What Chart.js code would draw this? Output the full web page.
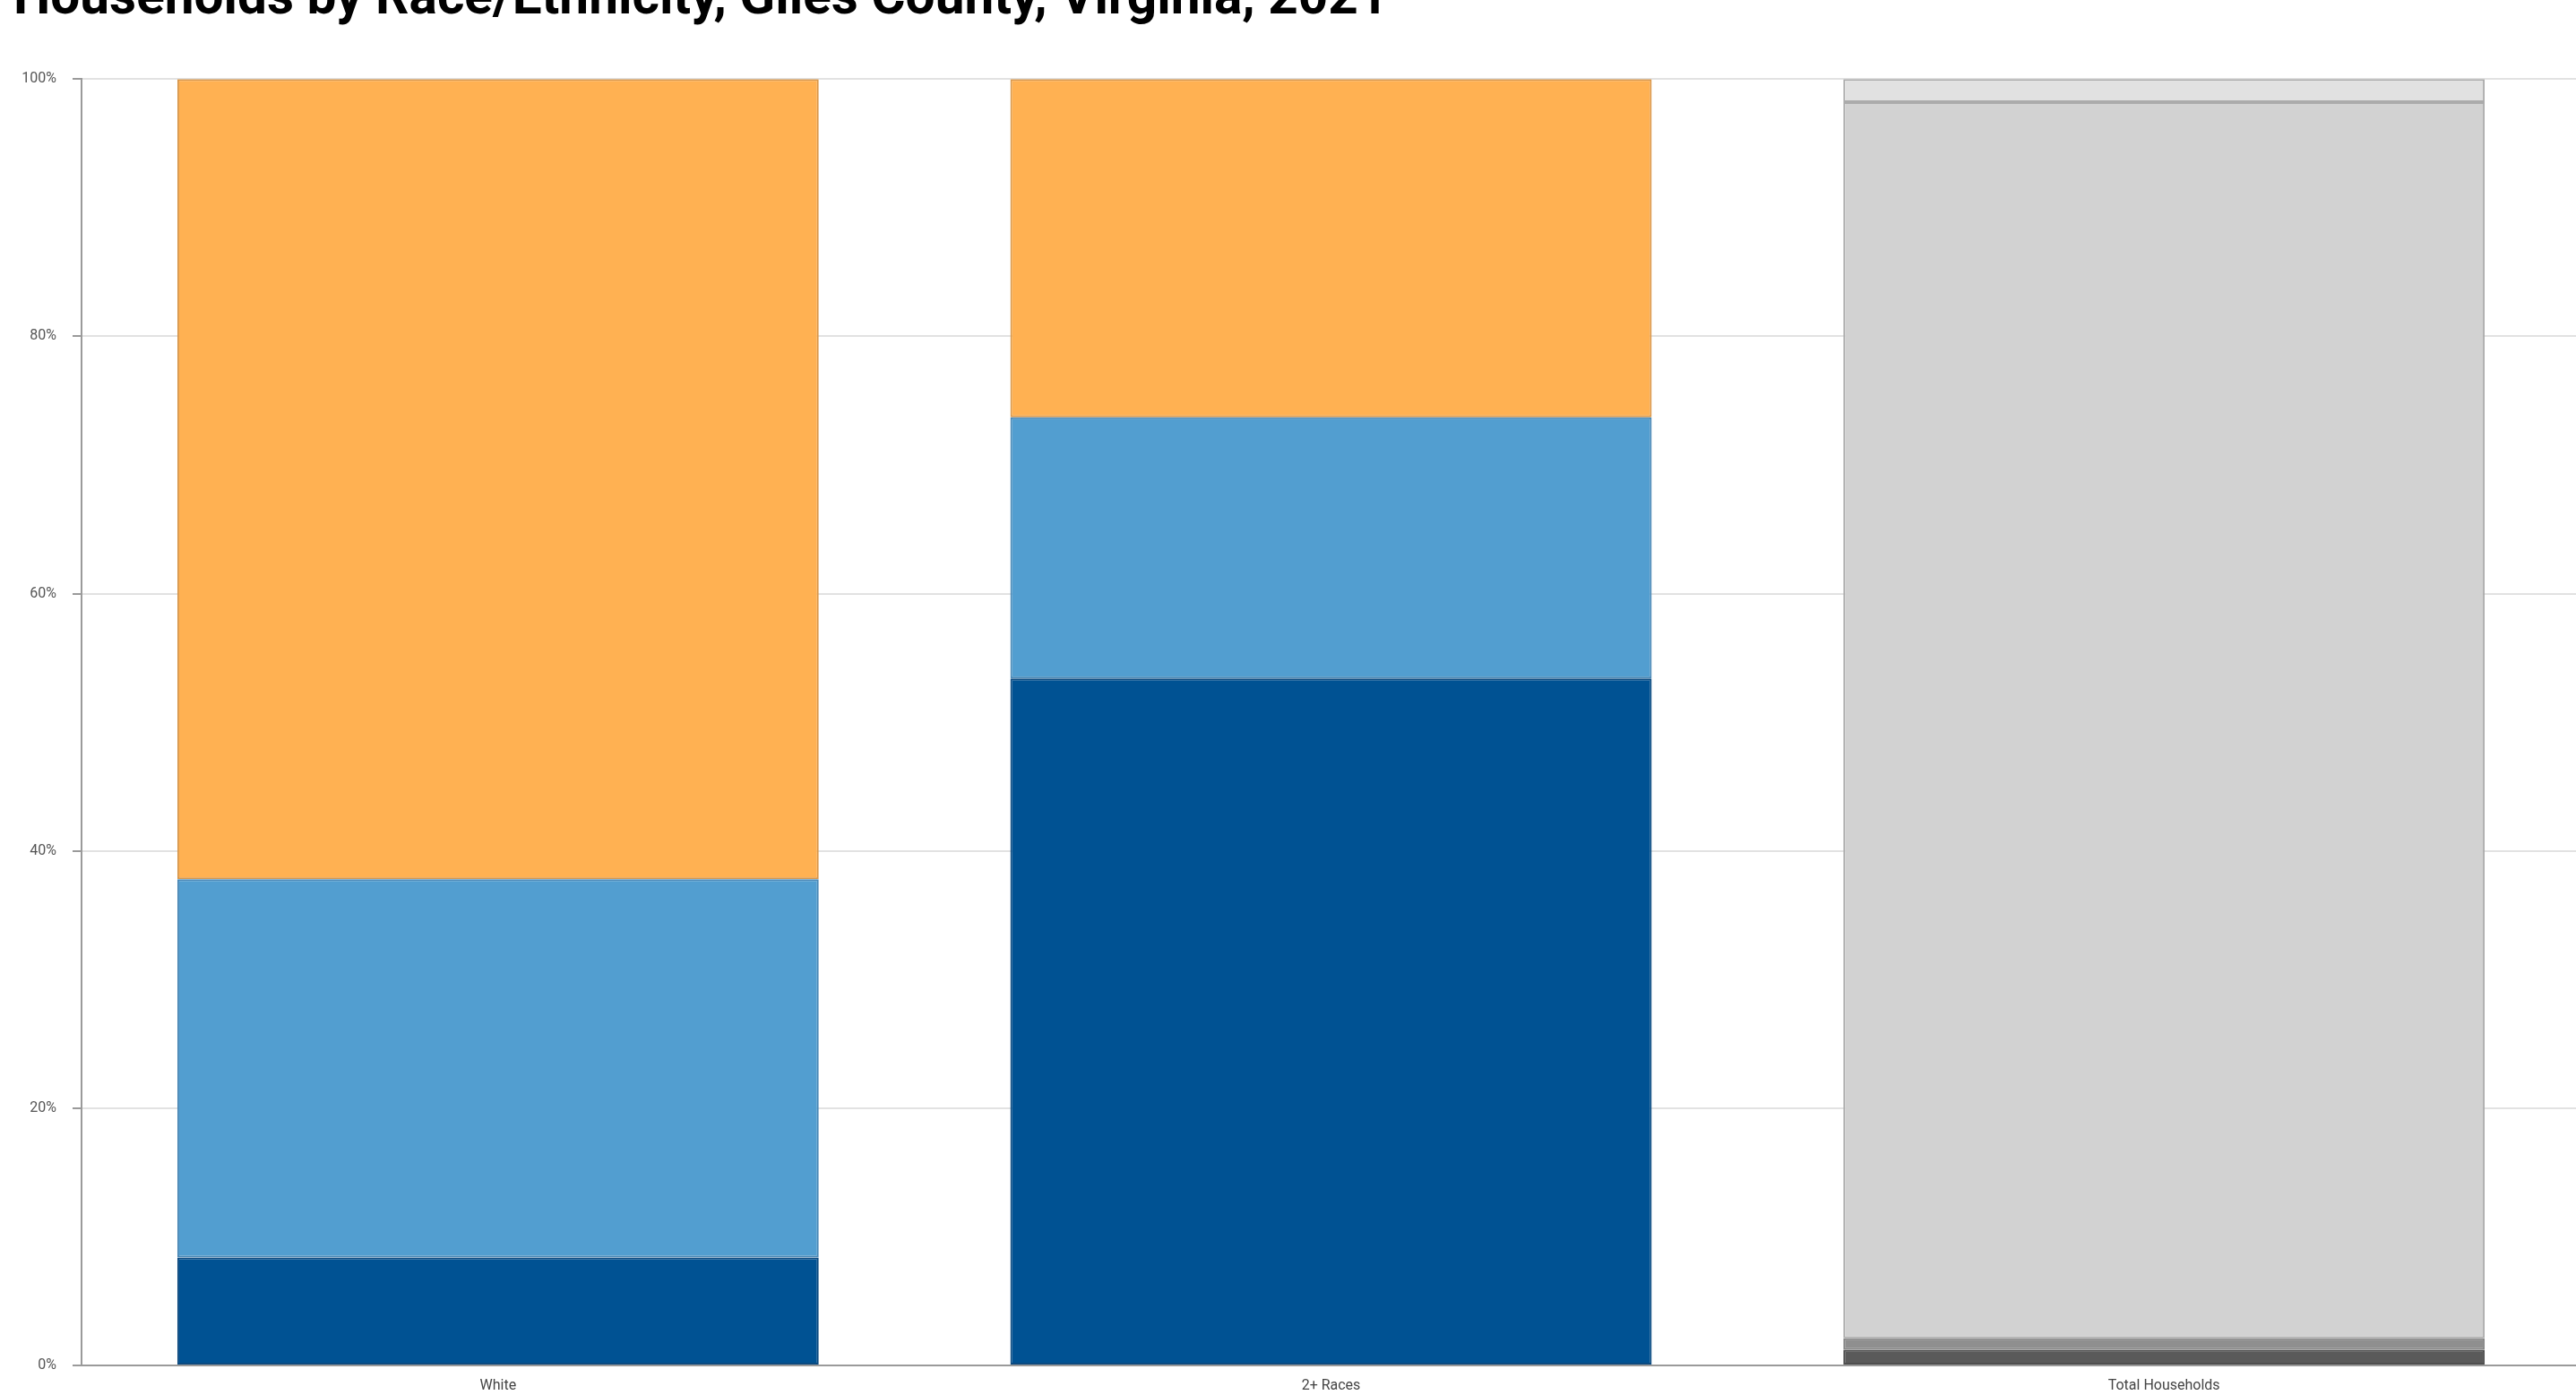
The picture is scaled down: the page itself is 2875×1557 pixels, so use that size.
<!DOCTYPE html>
<html>
<head>
<meta charset="utf-8">
<script src="https://cdn.jsdelivr.net/npm/chart.js@4/dist/chart.umd.min.js"></script>
<style>
    html, body { margin: 0; padding: 0; background: #fff; overflow: hidden; }
    #wrap { position: absolute; left: 0; top: -35px; width: 2880px; height: 1592px; }
</style>
</head>
<body>
<div id="wrap"><canvas id="raceChart" width="2880" height="1592"></canvas></div>
<script>
// Categories and stacked shares (percent), bottom segment first
const categories = ['White', '2+ Races', 'Total Households'];

const darkBlueShare = [8.4, 53.4, null];
const lightBlueShare = [29.4, 20.3, null];
const orangeShare = [62.2, 26.3, null];

// Total households bar, bottom to top
const grayDarkShare = [null, null, 1.2];
const grayMidShare = [null, null, 0.9];
const grayLightShare = [null, null, 96.1];
const grayTopShare = [null, null, 1.8];

const yTicks = [0, 20, 40, 60, 80, 100];

function makeSet(label, data, fill, border) {
    return {
        label: label,
        data: data,
        backgroundColor: fill,
        borderColor: border,
        borderWidth: 2,
        borderSkipped: false,
        barPercentage: 0.77,
        categoryPercentage: 1.0
    };
}

const datasets = [
    makeSet('Dark blue', darkBlueShare, '#005293', '#0b4a80'),
    makeSet('Light blue', lightBlueShare, '#529ed0', '#4a88b6'),
    makeSet('Orange', orangeShare, '#ffb152', '#d9974a'),
    makeSet('Gray 1', grayDarkShare, '#5a5a5a', '#4e4e4e'),
    makeSet('Gray 2', grayMidShare, '#8f8f8f', '#858585'),
    makeSet('Gray 3', grayLightShare, '#d2d2d2', '#ababab'),
    makeSet('Gray 4', grayTopShare, '#e1e1e1', '#ababab')
];

const ctx = document.getElementById('raceChart');
new Chart(ctx.getContext('2d'), {
    type: 'bar',
    data: {
        labels: categories,
        datasets: datasets
    },
    options: {
        responsive: false,
        animation: false,
        devicePixelRatio: 1,
        layout: {
            padding: { left: 15, right: 0, top: 0, bottom: 0 }
        },
        plugins: {
            legend: { display: false },
            tooltip: { enabled: false },
            title: {
                display: true,
                text: 'Households by Race/Ethnicity, Giles County, Virginia, 2021',
                align: 'start',
                color: '#000',
                font: { family: 'Roboto', size: 58.5, weight: 'bold', lineHeight: 1.2 },
                padding: { top: 0, bottom: 53 }
            }
        },
        scales: {
            x: {
                stacked: true,
                grid: { display: false },
                border: { display: true, color: '#9a9a9a', width: 2 },
                ticks: {
                    color: '#444',
                    padding: 5,
                    font: { family: 'Roboto', size: 16 }
                },
                afterFit: function(scale) { scale.height = 33; }
            },
            y: {
                stacked: true,
                min: 0,
                max: 100,
                afterBuildTicks: function(scale) {
                    scale.ticks = yTicks.map(v => ({ value: v }));
                },
                grid: {
                    color: '#e2e2e2',
                    lineWidth: 2,
                    tickColor: '#9a9a9a',
                    tickLength: 10
                },
                border: { display: true, color: '#9a9a9a', width: 2 },
                ticks: {
                    color: '#555',
                    padding: 18,
                    font: { family: 'Roboto', size: 16 },
                    callback: function(value) { return value + '%'; }
                },
                afterFit: function(scale) { scale.width = 76; }
            }
        }
    }
});
</script>
</body>
</html>
